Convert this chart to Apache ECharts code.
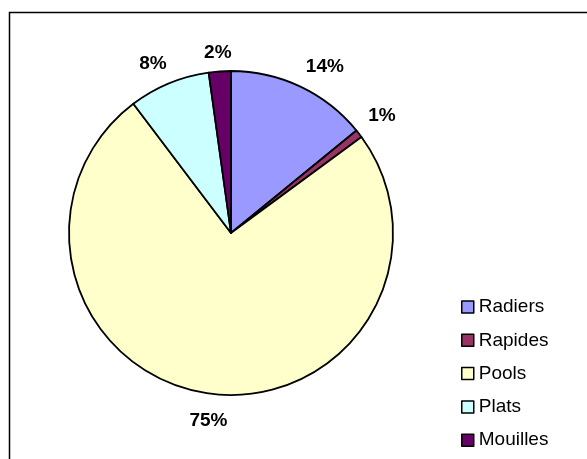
<!DOCTYPE html>
<html>
<head>
<meta charset="utf-8">
<script src="https://cdn.jsdelivr.net/npm/echarts@6/dist/echarts.min.js"></script>
<style>html,body{margin:0;padding:0;background:#fff;}#c{width:587px;height:459px;}</style>
</head>
<body>
<div id="c"></div>
<script>
var categories = ['Radiers', 'Rapides', 'Pools', 'Plats', 'Mouilles'];
var values = [14.1, 0.8, 74.8, 8.1, 2.2];
var labels = ['14%', '1%', '75%', '8%', '2%'];
var colors = ['#9999FF', '#993366', '#FFFFCC', '#CCFFFF', '#660066'];

// small label nudges (style only), mimicking the original label placement
var labelNudges = {Radiers: [12, 6], Rapides: [0, 0], Pools: [5, -1], Plats: [-5, 7], Mouilles: [0, 10]};

var chart = echarts.init(document.getElementById('c'), null, {renderer: 'canvas'});
var pieData = categories.map(function (n, i) {
  return {name: n, value: values[i], itemStyle: {color: colors[i]}};
});
var labelData = categories.map(function (n, i) {
  return {name: n, value: values[i], label: {formatter: labels[i], offset: labelNudges[n]}};
});
chart.setOption({
  animation: false,
  textStyle: {fontFamily: 'Liberation Sans, Arial, sans-serif'},
  graphic: [{
    type: 'rect', silent: true,
    shape: {x: 9.5, y: 12.5, width: 620, height: 500},
    style: {fill: 'none', stroke: '#000', lineWidth: 1.5}
  }],
  legend: {
    orient: 'vertical', left: 456, top: 292,
    itemWidth: 12, itemHeight: 12, itemGap: 13.3,
    icon: 'rect',
    data: categories,
    itemStyle: {borderColor: '#000', borderWidth: 1.5},
    textStyle: {fontSize: 19, lineHeight: 20, color: '#000', fontFamily: 'Liberation Sans, Arial, sans-serif'}
  },
  series: [{
    type: 'pie', center: [231, 233], radius: 162,
    startAngle: 90, clockwise: true,
    label: {show: false}, labelLine: {show: false},
    emphasis: {disabled: true},
    itemStyle: {borderColor: '#000', borderWidth: 1.8},
    data: pieData
  }, {
    type: 'pie', center: [231, 233], radius: [176, 200],
    startAngle: 90, clockwise: true, silent: true,
    legendHoverLink: false,
    emphasis: {disabled: true},
    itemStyle: {color: 'rgba(0,0,0,0)', borderWidth: 0},
    label: {show: true, position: 'inside', fontSize: 19, fontWeight: 'bold', color: '#000',
      fontFamily: 'Liberation Sans, Arial, sans-serif'},
    labelLine: {show: false},
    data: labelData
  }]
});
</script>
</body>
</html>
